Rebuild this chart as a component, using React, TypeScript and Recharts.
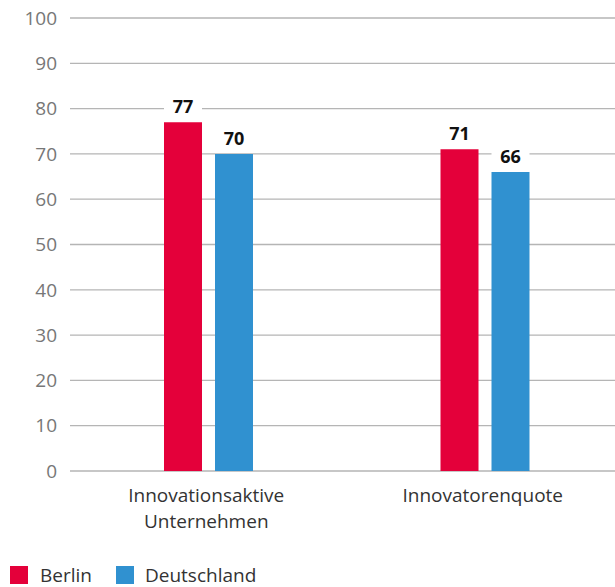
import React from "react";
import { BarChart, Bar, XAxis, YAxis, CartesianGrid, Legend, LabelList } from "recharts";

const categories = ["Innovationsaktive\nUnternehmen", "Innovatorenquote"];
const berlin = [77, 71];
const deutschland = [70, 66];
const yTicks = [0, 10, 20, 30, 40, 50, 60, 70, 80, 90, 100];

const data = categories.map((name, i) => ({
  name,
  berlin: berlin[i],
  deutschland: deutschland[i],
}));

const RED = "#e4003a";
const BLUE = "#3091d0";
const FONT = "'Open Sans', sans-serif";

const CategoryTick = (props: any) => {
  const { x, y, payload } = props;
  const lines = String(payload.value).split("\n");
  return (
    <text x={x - 2} y={y} textAnchor="middle" fill="#333" fontSize={19} fontFamily={FONT}>
      {lines.map((l, i) => (
        <tspan key={i} x={x - 2} dy={i === 0 ? 23 : 26}>
          {l}
        </tspan>
      ))}
    </text>
  );
};

const ValueLabel = (props: any) => {
  const { x, y, width, value } = props;
  const cx = x + width / 2;
  return (
    <g>
      <rect x={cx - 19} y={y - 29} width={38} height={23} fill="#fff" />
      <text x={cx} y={y - 9} textAnchor="middle" fontWeight="bold" fontSize={18} fill="#111" fontFamily={FONT}>
        {value}
      </text>
    </g>
  );
};

const LegendContent = () => (
  <div style={{ height: 25, display: "flex", alignItems: "center", fontFamily: FONT, fontSize: 19, color: "#333" }}>
    <span style={{ width: 18, height: 18, background: RED, display: "inline-block", marginLeft: 10, marginRight: 12 }} />
    <span>Berlin</span>
    <span style={{ width: 18, height: 18, background: BLUE, display: "inline-block", marginLeft: 24, marginRight: 11 }} />
    <span>Deutschland</span>
  </div>
);

export default function App() {
  return (
    <div style={{ position: "absolute", left: 0, top: 0, width: 615, height: 587, background: "#fff" }}>
      <BarChart
        width={615}
        height={587}
        data={data}
        margin={{ top: 18, right: -8, left: 0, bottom: 0 }}
        barSize={38}
        barGap={13}
      >
        <CartesianGrid vertical={false} stroke="#b5b5b5" strokeWidth={1.3} />
        <XAxis
          dataKey="name"
          axisLine={false}
          tickLine={false}
          height={91}
          tick={<CategoryTick />}
          interval={0}
        />
        <YAxis
          domain={[0, 100]}
          ticks={yTicks}
          axisLine={false}
          tickLine={false}
          width={70}
          tickSize={0}
          tickMargin={13}
          tick={{ fill: "#777", fontSize: 19, fontFamily: FONT }}
        />
        <Legend verticalAlign="bottom" align="left" content={<LegendContent />} wrapperStyle={{ left: 0 }} />
        <Bar dataKey="berlin" name="Berlin" fill={RED} isAnimationActive={false}>
          <LabelList dataKey="berlin" content={<ValueLabel />} />
        </Bar>
        <Bar dataKey="deutschland" name="Deutschland" fill={BLUE} isAnimationActive={false}>
          <LabelList dataKey="deutschland" content={<ValueLabel />} />
        </Bar>
      </BarChart>
    </div>
  );
}
